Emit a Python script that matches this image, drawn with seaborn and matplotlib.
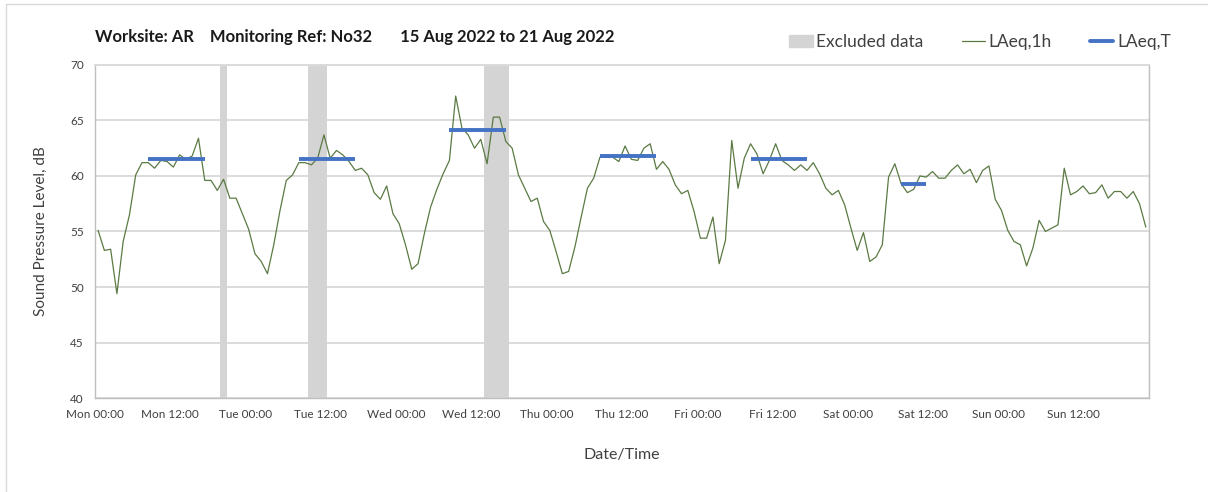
import pandas as pd
import numpy as np
import matplotlib.pyplot as plt
import matplotlib.patches as mpatches
from matplotlib.lines import Line2D
import seaborn as sns

# hourly LAeq,1h values, Mon 00:00 .. Sun 23:00
laeq_1h = [
    55.1, 53.3, 53.4, 49.4, 54.1, 56.5, 60.1, 61.2, 61.2, 60.7, 61.4, 61.3,
    60.8, 61.9, 61.5, 61.8, 63.4, 59.6, 59.6, 58.7, 59.7, 58.0, 58.0, 56.6,
    55.2, 53.0, 52.3, 51.2, 53.8, 56.9, 59.6, 60.1, 61.2, 61.2, 61.0, 61.6,
    63.7, 61.6, 62.3, 61.9, 61.3, 60.5, 60.7, 60.1, 58.5, 57.9, 59.1, 56.6,
    55.7, 53.8, 51.6, 52.1, 54.8, 57.2, 58.8, 60.2, 61.4, 67.2, 64.3, 63.7,
    62.5, 63.3, 61.1, 65.3, 65.3, 63.1, 62.5, 60.1, 58.9, 57.7, 58.0, 55.9,
    55.1, 53.2, 51.2, 51.4, 53.6, 56.3, 58.9, 59.8, 61.7, 61.7, 61.7, 61.3,
    62.7, 61.5, 61.4, 62.5, 62.9, 60.6, 61.3, 60.6, 59.2, 58.4, 58.7, 56.8,
    54.4, 54.4, 56.3, 52.1, 54.2, 63.2, 58.9, 61.6, 62.9, 62.0, 60.2, 61.4,
    62.9, 61.4, 61.0, 60.5, 61.0, 60.5, 61.2, 60.2, 58.9, 58.3, 58.7, 57.4,
    55.3, 53.3, 54.9, 52.3, 52.7, 53.8, 59.9, 61.1, 59.3, 58.5, 58.8, 60.0,
    59.9, 60.4, 59.8, 59.8, 60.5, 61.0, 60.2, 60.6, 59.4, 60.5, 60.9, 57.9,
    56.9, 55.1, 54.1, 53.8, 51.9, 53.5, 56.0, 55.0, 55.3, 55.6, 60.7, 58.3,
    58.6, 59.1, 58.4, 58.5, 59.2, 58.0, 58.6, 58.6, 58.0, 58.6, 57.5, 55.4,
]

# LAeq,T periods: first hour, last hour, level
period_start = [8, 32, 56, 80, 104, 128]
period_end = [17, 41, 65, 89, 113, 132]
period_level = [61.5, 61.5, 64.1, 61.8, 61.5, 59.3]

# excluded data (hours from Mon 00:00)
excl_start = [20, 34, 62]
excl_end = [21, 37, 66]

days = ['Mon', 'Tue', 'Wed', 'Thu', 'Fri', 'Sat', 'Sun']
tick_labels = [f'{d} {t}' for d in days for t in ('00:00', '12:00')]

sns.set_style('white')
plt.rcParams['font.family'] = ['Lato', 'DejaVu Sans']

green = '#5b7a43'
blue = '#4472c4'
grey = '#d4d4d4'

df = pd.DataFrame({'hour': np.arange(len(laeq_1h)) + 0.5, 'LAeq': laeq_1h})

fig = plt.figure(figsize=(12.08, 4.92), dpi=100)
ax = fig.add_axes([0.0786, 0.191, 0.8725, 0.677])

for s, e in zip(excl_start, excl_end):
    ax.axvspan(s, e, color=grey, lw=0, zorder=1)

sns.lineplot(data=df, x='hour', y='LAeq', color=green, lw=0.9, ax=ax, zorder=3)

for s, e, lv in zip(period_start, period_end, period_level):
    seg = pd.DataFrame({'hour': [s + 0.5, e + 0.5], 'LAeq': [lv, lv]})
    sns.lineplot(data=seg, x='hour', y='LAeq', color=blue, lw=2.8, ax=ax,
                 zorder=4, solid_capstyle='butt')

ax.set_xlim(0, 168)
ax.set_ylim(40, 70)
ax.set_yticks(range(40, 71, 5))
ax.set_xticks(range(0, 168, 12))
ax.set_xticklabels(tick_labels)
ax.set_xticks(range(0, 169, 24), minor=True)

ax.yaxis.grid(True, color='#d9d9d9', lw=1.3, zorder=0)
ax.xaxis.grid(True, which='minor', color='#e2e2e2', lw=1.0, zorder=0)
ax.set_axisbelow(True)
for side in ['left', 'bottom', 'right', 'top']:
    ax.spines[side].set_color('#bfbfbf')
    ax.spines[side].set_linewidth(1.0)
ax.spines['top'].set_color('#d9d9d9')
ax.spines['top'].set_linewidth(1.3)

ax.tick_params(axis='both', which='major', direction='out', length=4,
               width=1, color='#bfbfbf', labelsize=8.5, labelcolor='#404040',
               pad=4)
ax.tick_params(axis='x', which='minor', length=0)

ax.set_xlabel('Date/Time', fontsize=11.5, color='#404040', labelpad=20)
ax.set_ylabel('Sound Pressure Level, dB', fontsize=11, color='#404040',
              labelpad=16)

fig.text(0.0786, 0.925,
         'Worksite: AR    Monitoring Ref: No32       15 Aug 2022 to 21 Aug 2022',
         fontsize=12, fontweight='bold', color='#1a1a1a', va='center')

handles = [
    mpatches.Patch(color=grey, label='Excluded data'),
    Line2D([], [], color=green, lw=0.9, label='LAeq,1h'),
    Line2D([], [], color=blue, lw=2.8, label='LAeq,T'),
]
fig.legend(handles=handles, loc='center right', bbox_to_anchor=(0.982, 0.915),
           ncol=3, frameon=False, fontsize=12.5, handlelength=1.35,
           handletextpad=0.2, columnspacing=2.2, labelcolor='#404040')

# chart area border
fig.add_artist(Line2D([0.005, 1.0], [0.992, 0.992], color='#d9d9d9', lw=1,
                      transform=fig.transFigure))
fig.add_artist(Line2D([0.005, 0.005], [0.0, 0.992], color='#d9d9d9', lw=1,
                      transform=fig.transFigure))

fig.savefig('out.png', dpi=100)
